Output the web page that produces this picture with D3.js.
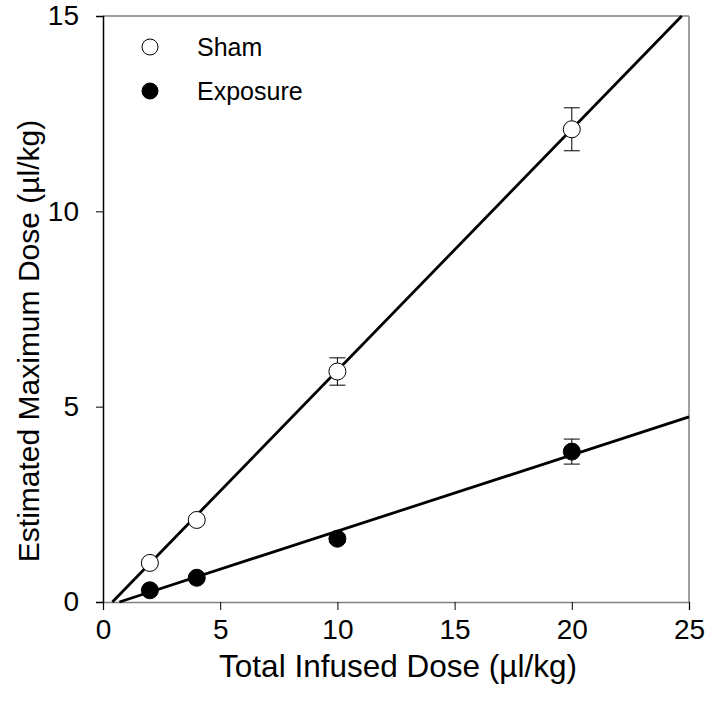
<!DOCTYPE html>
<html>
<head>
<meta charset="utf-8">
<script src="https://cdn.jsdelivr.net/npm/d3@7"></script>
<style>
  html, body { margin: 0; padding: 0; background: #fff; }
  svg { display: block; font-family: Arial, "Liberation Sans", sans-serif; }
</style>
</head>
<body>
<svg id="chart" width="710" height="716"></svg>
<script>
// ---- data ----
const doses = [2, 4, 10, 20];
const shamMean = [1.0, 2.1, 5.9, 12.1];
const shamErr = [0.08, 0.08, 0.35, 0.55];
const exposureMean = [0.3, 0.62, 1.62, 3.85];
const exposureErr = [0.05, 0.05, 0.1, 0.32];
const shamFitX = [0.4, 24.69];
const shamFitY = [0, 15];
const exposureFitX = [0.7, 25];
const exposureFitY = [0, 4.74];
const xTicks = [0, 5, 10, 15, 20, 25];
const yTicks = [0, 5, 10, 15];
const seriesNames = ["Sham", "Exposure"];

// ---- layout ----
const svg = d3.select("#chart");
const pLeft = 103, pRight = 689, pTop = 16, pBottom = 602;
const x = d3.scaleLinear().domain([0, 25]).range([pLeft, pRight]);
const y = d3.scaleLinear().domain([0, 15]).range([pBottom, pTop]);
const FONT = "Arial, 'Liberation Sans', sans-serif";

// frame (top + right gray)
svg.append("line").attr("x1", pLeft).attr("x2", pRight).attr("y1", pTop).attr("y2", pTop)
  .attr("stroke", "#808080").attr("stroke-width", 1.5);
svg.append("line").attr("x1", pRight).attr("x2", pRight).attr("y1", pTop).attr("y2", pBottom)
  .attr("stroke", "#808080").attr("stroke-width", 1.5);

// axes
const xAxis = svg.append("g").attr("transform", `translate(0,${pBottom})`)
  .call(d3.axisBottom(x).tickValues(xTicks).tickSize(8).tickPadding(9).tickFormat(d3.format("d")));
xAxis.select(".domain").attr("stroke", "#808080").attr("stroke-width", 1.5);
xAxis.selectAll(".tick line").attr("stroke", "#000");
xAxis.selectAll(".tick text").attr("font-size", 28).attr("fill", "#000").attr("font-family", FONT);

const yAxis = svg.append("g").attr("transform", `translate(${pLeft},0)`)
  .call(d3.axisLeft(y).tickValues(yTicks).tickSize(7).tickPadding(17).tickFormat(d3.format("d")));
yAxis.select(".domain").attr("stroke", "#000").attr("stroke-width", 1.5);
yAxis.selectAll(".tick line").attr("stroke", "#000");
yAxis.selectAll(".tick text").attr("font-size", 28).attr("fill", "#000").attr("font-family", FONT);

// axis titles
svg.append("text").attr("x", 398).attr("y", 677)
  .attr("text-anchor", "middle").attr("font-size", 31.5).attr("font-family", FONT)
  .text("Total Infused Dose (µl/kg)");
svg.append("text").attr("transform", `translate(39,341) rotate(-90)`)
  .attr("text-anchor", "middle").attr("font-size", 30).attr("font-family", FONT)
  .text("Estimated Maximum Dose (µl/kg)");

// fit lines
const line = d3.line().x(d => x(d[0])).y(d => y(d[1]));
svg.append("path").datum(d3.zip(shamFitX, shamFitY)).attr("d", line)
  .attr("fill", "none").attr("stroke", "#000").attr("stroke-width", 2.8);
svg.append("path").datum(d3.zip(exposureFitX, exposureFitY)).attr("d", line)
  .attr("fill", "none").attr("stroke", "#000").attr("stroke-width", 2.8);

// error bars + points
function drawSeries(means, errs, fill) {
  const g = svg.append("g");
  const data = doses.map((d, i) => ({ x: d, y: means[i], e: errs[i] }));
  const cap = 8;
  data.forEach(d => {
    g.append("line").attr("x1", x(d.x)).attr("x2", x(d.x)).attr("y1", y(d.y - d.e)).attr("y2", y(d.y + d.e))
      .attr("stroke", "#000").attr("stroke-width", 1);
    [d.y - d.e, d.y + d.e].forEach(v => {
      g.append("line").attr("x1", x(d.x) - cap).attr("x2", x(d.x) + cap).attr("y1", y(v)).attr("y2", y(v))
        .attr("stroke", "#000").attr("stroke-width", 1);
    });
  });
  g.selectAll("circle").data(data).join("circle")
    .attr("cx", d => x(d.x)).attr("cy", d => y(d.y)).attr("r", 8.5)
    .attr("fill", fill).attr("stroke", "#000").attr("stroke-width", 1);
}
drawSeries(shamMean, shamErr, "#fff");
drawSeries(exposureMean, exposureErr, "#000");

// legend
const legend = svg.append("g");
seriesNames.forEach((name, i) => {
  const ly = 47 + i * 44;
  legend.append("circle").attr("cx", 150).attr("cy", ly).attr("r", 8)
    .attr("fill", i === 0 ? "#fff" : "#000").attr("stroke", "#000").attr("stroke-width", 1);
  legend.append("text").attr("x", 197).attr("y", ly + 9).attr("font-size", 25)
    .attr("font-family", FONT).text(name);
});
</script>
</body>
</html>
